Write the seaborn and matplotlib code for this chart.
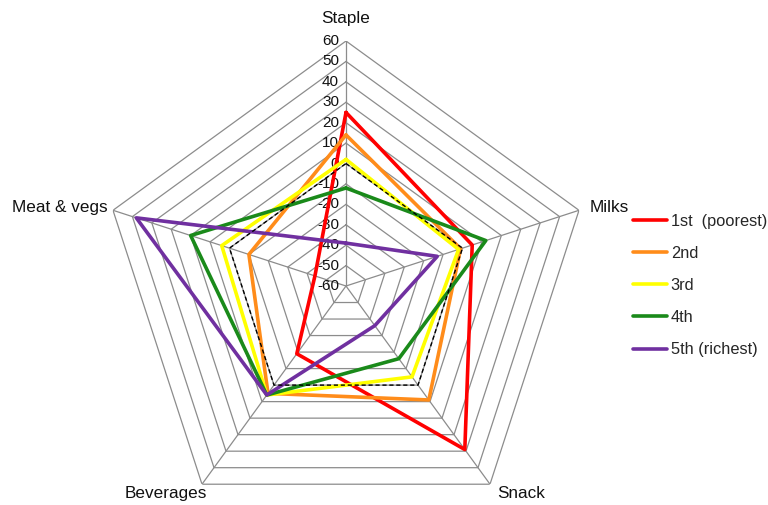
import numpy as np
import pandas as pd
import seaborn as sns
import matplotlib
matplotlib.use("Agg")
import matplotlib.pyplot as plt
from matplotlib.transforms import offset_copy

# categories (clockwise from top) and quintile values
categories = ['Staple', 'Milks', 'Snack', 'Beverages', 'Meat & vegs']
quintiles = ['1st  (poorest)', '2nd', '3rd', '4th', '5th (richest)']
q1 = [25, 5, 39, -19, -44]
q2 = [14, -1, 9, 5, -10]
q3 = [2, -2, -5, 6, 4]
q4 = [-12, 12, -16, 6, 20]
q5 = [-39, -13, -36, 6, 48]
reference = [0, 0, 0, 0, 0]
tick_values = list(range(-60, 61, 10))
colors = ['#ff0000', '#ff8c1a', '#ffff00', '#1a8a1a', '#7030a0']

sns.set_style('white')
plt.rcParams['font.family'] = ['Liberation Sans', 'DejaVu Sans']

n = len(categories)
angles = np.linspace(0, 2 * np.pi, n, endpoint=False)
angles_closed = np.append(angles, 2 * np.pi)

rows = []
for name, vals in zip(quintiles, [q1, q2, q3, q4, q5]):
    for a, v in zip(angles_closed, vals + vals[:1]):
        rows.append({'angle': a, 'value': v, 'quintile': name})
df = pd.DataFrame(rows)

fig = plt.figure(figsize=(7.68, 5.05), dpi=100)
# polar axes placed so the pentagon centre sits at (346, 286) px, radius 245 px
ax = fig.add_axes([101 / 768, (219 - 245) / 505, 490 / 768, 490 / 505], projection='polar')
ax.set_theta_offset(np.pi / 2)
ax.set_theta_direction(-1)
ax.set_ylim(-60, 60)
ax.grid(False)
ax.spines['polar'].set_visible(False)
ax.set_xticks([])
ax.set_yticks([])
ax.patch.set_alpha(0)

# pentagonal gridlines and spokes
grid_col = '#8c8c8c'
for t in tick_values[1:]:
    ax.plot(angles_closed, [t] * (n + 1), color=grid_col, lw=0.9, zorder=1)
for a in angles:
    ax.plot([a, a], [-60, 60], color=grid_col, lw=0.9, zorder=1)

# value labels along the Staple axis
lab_tr = offset_copy(ax.transData, fig=fig, x=-7, y=0, units='dots')
for t in tick_values:
    ax.text(0, t, str(t), transform=lab_tr, ha='right', va='center',
            fontsize=11, color='#111111', zorder=2)

# category labels outside each vertex
label_offsets = [(0, 23, 'center'), (11, 3, 'left'), (7, -9, 'left'),
                 (5, -9, 'right'), (-5, 3, 'right')]
for a, cat, (dx, dy, ha) in zip(angles, categories, label_offsets):
    tr = offset_copy(ax.transData, fig=fig, x=dx, y=dy, units='dots')
    ax.text(a, 60, cat, transform=tr, ha=ha, va='center', fontsize=12.3,
            color='#111111')

sns.lineplot(data=df, x='angle', y='value', hue='quintile', palette=colors,
             sort=False, estimator=None, lw=2.6, ax=ax, zorder=3)

# dashed zero reference
ax.plot(angles_closed, reference + reference[:1], color='black', lw=1.0,
        ls=(0, (3, 2)), zorder=4)

ax.set_xlabel('')
ax.set_ylabel('')
handles, labels = ax.get_legend_handles_labels()
ax.legend(handles[:5], labels[:5], loc='center left',
          bbox_to_anchor=(633 / 768, (505 - 285.5) / 505),
          bbox_transform=fig.transFigure, frameon=False, fontsize=11.8,
          handlelength=2.1, handletextpad=0.2, labelspacing=1.05,
          borderpad=0, borderaxespad=0)

fig.savefig('out.png', dpi=100)
